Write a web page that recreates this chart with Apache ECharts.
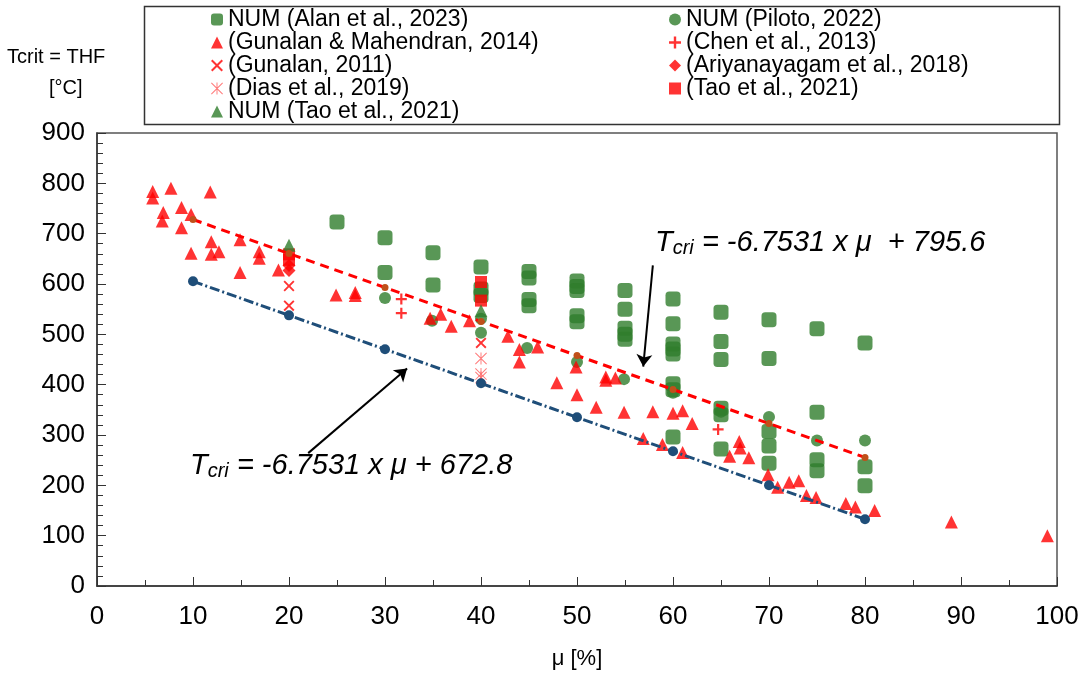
<!DOCTYPE html>
<html>
<head>
<meta charset="utf-8">
<script src="https://cdn.jsdelivr.net/npm/echarts@6/dist/echarts.min.js"></script>
<style>
  html, body { margin: 0; padding: 0; background: #fff; }
  #main { width: 1083px; height: 675px; }
</style>
</head>
<body>
<div id="main"></div>
<script>
// 数据 (μ [%], Tcrit [°C])
const alanData = [[25,723],[30,692],[30,623],[35,662],[35,598],[40,634],[40,590],[40,577],
  [45,625],[45,612],[45,569],[45,557],[50,606],[50,595],[50,587],[50,537],[50,525],
  [55,587],[55,550],[55,512],[55,500],[55,490],[60,570],[60,521],[60,481],[60,471],[60,461],
  [60,402],[60,390],[60,296],[65,544],[65,486],[65,450],[65,353],[65,340],[65,272],
  [70,529],[70,452],[70,307],[70,278],[70,244],[75,511],[75,345],[75,251],[75,229],
  [80,483],[80,237],[80,199]];
const pilotoData = [[30,572],[34.9,527],[40,531],[40,503],[44.8,473],[50,445],[54.9,411],
  [60,384],[65,346],[70,336],[75,289],[80,289]];
const gunMahData = [[5.8,784],[5.8,771],[7.7,790],[11.8,783],[6.9,742],[6.8,725],[8.8,752],
  [9.8,738],[8.8,712],[9.8,661],[11.9,684],[11.9,659],[12.7,664],[14.9,688],[14.9,623],
  [16.9,664],[16.9,651],[18.9,628],[24.9,578],[26.9,583],[26.9,577],[34.7,532],[35.8,540],
  [36.9,516],[38.8,527],[42.8,496],[44,470],[44,445],[45.9,475],[47.9,404],[49.9,435],
  [50,380],[52,355],[53,415],[53,409],[54,413],[54.9,345],[56.9,293],[57.9,346],[58.9,281],
  [60,343],[61,348],[61,265],[62,323],[65.9,258],[66.9,287],[67,274],[67.9,255],[69.9,221],
  [70.9,196],[72.1,206],[73.1,209],[73.9,180],[74.9,176],[78,164],[79,157],[81,150],
  [89,127],[99,100]];
const chenData = [[31.7,570],[31.7,542],[64.7,311]];
const gunalan2011Data = [[20,596],[20,557],[40,483]];
const ariyData = [[20,637],[20,627]];
const diasData = [[40,452],[40,421],[40,414]];
const tao2021Data = [[20,659],[20,648],[40,604],[40,567]];
const taoNumData = [[20,677],[40,547]];

// 拟合线
const fitX = [10,20,30,40,50,60,70,80];
const fitUpper = [728.1,660.5,593.0,525.5,457.9,390.4,322.9,255.4];
const fitLower = [605.3,537.7,470.2,402.7,335.1,267.6,200.1,132.6];

const FONT = 'Liberation Sans, Arial, sans-serif'
const GREEN = '#2f7d2c'
const RED = '#ff0000'

const PLUS = 'path://M4,0 H6 V4 H10 V6 H6 V10 H4 V6 H0 V4 H4 Z'
const CROSS = 'path://M0,1.2 L1.2,0 L5,3.8 L8.8,0 L10,1.2 L6.2,5 L10,8.8 L8.8,10 L5,6.2 L1.2,10 L0,8.8 L3.8,5 Z'
const STAR = 'path://M4.6,0 H5.4 V10 H4.6 Z M0,0.6 L0.6,0 L10,9.4 L9.4,10 Z M9.4,0 L10,0.6 L0.6,10 L0,9.4 Z'

function zip(xs, ys) {
  return xs.map((x, i) => [x, ys[i]])
}

function sc(name, data, symbol, size, color) {
  return { name, type: 'scatter', data, symbol, symbolSize: size, itemStyle: { color }, z: 3 }
}

const eqRich = {
  t: { fontSize: 29, fontStyle: 'italic', fontFamily: FONT, fill: '#000' },
  s: { fontSize: 20, fontStyle: 'italic', fontFamily: FONT, fill: '#000', padding: [11, 0, 0, 0] }
}

var myChart = echarts.init(document.getElementById('main'));
myChart.setOption({
  animation: false,
  textStyle: { fontFamily: FONT },
  grid: {
    left: 97, right: 26, top: 133, bottom: 87,
    show: true, borderColor: '#555', borderWidth: 1.5
  },
  legend: [
    {
      orient: 'vertical', left: 206, top: 3, itemGap: 0,
      itemWidth: 12, itemHeight: 12,
      textStyle: { fontSize: 23, color: '#000', lineHeight: 23 },
      data: ['NUM (Alan et al., 2023)', '(Gunalan & Mahendran, 2014)', '(Gunalan, 2011)',
        '(Dias et al., 2019)', 'NUM (Tao et al., 2021)']
    },
    {
      orient: 'vertical', left: 664, top: 3, itemGap: 0,
      itemWidth: 12, itemHeight: 12,
      textStyle: { fontSize: 23, color: '#000', lineHeight: 23 },
      data: ['NUM (Piloto, 2022)', '(Chen et al., 2013)', '(Ariyanayagam et al., 2018)',
        '(Tao et al., 2021)']
    }
  ],
  xAxis: {
    type: 'value', min: 0, max: 100, interval: 10,
    name: 'μ [%]', nameLocation: 'middle', nameGap: 62,
    nameTextStyle: { fontSize: 22, color: '#000' },
    axisLine: { lineStyle: { color: '#333', width: 1.5 } },
    axisTick: { inside: true, length: 9, lineStyle: { color: '#333' } },
    minorTick: { show: true, splitNumber: 2, length: 6, lineStyle: { color: '#333' } },
    axisLabel: { fontSize: 26, color: '#000', margin: 18 },
    splitLine: { show: false }
  },
  yAxis: {
    type: 'value', min: 0, max: 900, interval: 100,
    axisLine: { show: true, lineStyle: { color: '#333', width: 1.5 } },
    axisTick: { show: true, inside: true, length: 9, lineStyle: { color: '#333' } },
    minorTick: { show: true, splitNumber: 5, length: 6, lineStyle: { color: '#333' } },
    axisLabel: { fontSize: 26, color: '#000', margin: 12 },
    splitLine: { show: false }
  },
  graphic: [
    {
      type: 'rect', left: 142, top: 4, z: 0,
      shape: { width: 915, height: 118 },
      style: { fill: 'none', stroke: '#333', lineWidth: 1.5 }
    },
    {
      type: 'text', left: 7, top: 47,
      style: { text: 'Tcrit = THF', font: '20px ' + FONT, fill: '#000' }
    },
    {
      type: 'text', left: 49, top: 78,
      style: { text: '[°C]', font: '20px ' + FONT, fill: '#000' }
    },
    {
      type: 'text', left: 655, top: 228,
      style: { text: '{t|T}{s|cri}{t| = -6.7531 x μ  + 795.6}', rich: eqRich }
    },
    {
      type: 'text', left: 190, top: 451,
      style: { text: '{t|T}{s|cri}{t| = -6.7531 x μ + 672.8}', rich: eqRich }
    }
  ],
  series: [
    sc('NUM (Alan et al., 2023)', alanData, 'roundRect', 15, GREEN),
    sc('NUM (Piloto, 2022)', pilotoData, 'circle', 12, GREEN),
    sc('(Gunalan & Mahendran, 2014)', gunMahData, 'triangle', 13, RED),
    sc('(Chen et al., 2013)', chenData, PLUS, 11, RED),
    sc('(Gunalan, 2011)', gunalan2011Data, CROSS, 11, RED),
    sc('(Ariyanayagam et al., 2018)', ariyData, 'diamond', 13, RED),
    sc('(Dias et al., 2019)', diasData, STAR, 12, '#ff5a5a'),
    sc('(Tao et al., 2021)', tao2021Data, 'rect', 12, RED),
    sc('NUM (Tao et al., 2021)', taoNumData, 'triangle', 13, GREEN),
    {
      name: 'fitUpper', type: 'line', data: zip(fitX, fitUpper), z: 4,
      symbol: 'circle', symbolSize: 7, itemStyle: { color: '#c0501a' },
      lineStyle: { color: RED, width: 3, type: [9, 6] }
    },
    {
      name: 'fitLower', type: 'line', data: zip(fitX, fitLower), z: 4,
      symbol: 'circle', symbolSize: 10, itemStyle: { color: '#1f4e79' },
      lineStyle: { color: '#1f4e79', width: 3, type: [10, 3, 2, 3] },
      markLine: {
        silent: true, symbol: ['none', 'arrow'], symbolSize: 12,
        label: { show: false },
        lineStyle: { color: '#000', width: 2, type: 'solid' },
        data: [
          [{ coord: [22, 264] }, { coord: [32.3, 432] }],
          [{ coord: [57.9, 637] }, { coord: [56.9, 436] }]
        ]
      }
    }
  ]
});
</script>
</body>
</html>
